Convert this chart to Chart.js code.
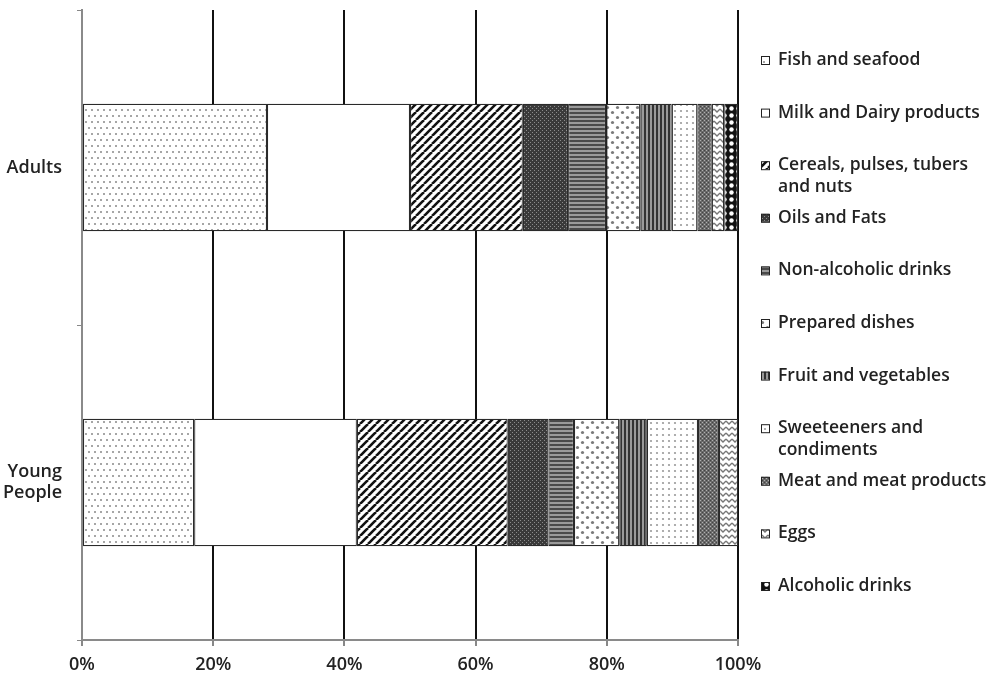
<!DOCTYPE html>
<html>
<head>
<meta charset="utf-8">
<script src="https://cdn.jsdelivr.net/npm/chart.js@4"></script>
<style>
  html, body { margin: 0; padding: 0; background: #fff; }
  #wrap { width: 993px; height: 686px; position: relative; }
</style>
</head>
<body>
<div id="wrap"><canvas id="chart"></canvas></div>
<script>
// data (percent of each group)
const categories = ['Adults', ['Young', 'People']];
const seriesNames = [
  'Fish and seafood',
  'Milk and Dairy products',
  ['Cereals, pulses, tubers', 'and nuts'],
  'Oils and Fats',
  'Non-alcoholic drinks',
  'Prepared dishes',
  'Fruit and vegetables',
  ['Sweeteeners and', 'condiments'],
  'Meat and meat products',
  'Eggs',
  'Alcoholic drinks'
];
const adults      = [28.2, 21.8, 17.2, 6.9, 5.8, 5.2, 4.8, 3.9, 2.2, 1.9, 2.1];
const youngPeople = [17.1, 24.8, 23.0, 6.2, 3.9, 6.9, 4.2, 7.8, 3.2, 2.9, 0];
const xTickLabels = ['0%', '20%', '40%', '60%', '80%', '100%'];

const FONT = '"Open Sans", "DejaVu Sans", sans-serif';
const TEXT = '#222';

// small tiles turned into canvas patterns (black & white hatch fills)
function tile(w, h, draw) {
  const c = document.createElement('canvas');
  c.width = w; c.height = h;
  const g = c.getContext('2d');
  draw(g, w, h);
  return document.getElementById('chart').getContext('2d').createPattern(c, 'repeat');
}
function dot(g, x, y, r, col) {
  g.fillStyle = col;
  g.beginPath(); g.arc(x, y, r, 0, Math.PI * 2); g.fill();
}

const patterns = [
  // fish: sparse grey dots
  tile(12, 12, (g, w, h) => {
    g.fillStyle = '#fff'; g.fillRect(0, 0, w, h);
    [[2, 2], [8, 2], [5, 8], [11, 8]].forEach(p => dot(g, p[0], p[1], 1, '#888'));
  }),
  // milk: plain white
  tile(4, 4, (g, w, h) => { g.fillStyle = '#fff'; g.fillRect(0, 0, w, h); }),
  // cereals: bold diagonal stripes
  tile(8, 8, (g, w, h) => {
    g.fillStyle = '#fff'; g.fillRect(0, 0, w, h);
    g.strokeStyle = '#111'; g.lineWidth = 2.6;
    for (let k = -1; k <= 1; k++) {
      g.beginPath(); g.moveTo(k * w, h); g.lineTo(k * w + w, 0); g.stroke();
    }
  }),
  // oils: dark fine dots
  tile(4, 4, (g, w, h) => {
    g.fillStyle = '#3a3a3a'; g.fillRect(0, 0, w, h);
    g.fillStyle = '#8c8c8c'; g.fillRect(0, 0, 1, 1); g.fillRect(2, 2, 1, 1);
  }),
  // non-alcoholic: horizontal stripes
  tile(4, 4, (g, w, h) => {
    g.fillStyle = '#9a9a9a'; g.fillRect(0, 0, w, h);
    g.fillStyle = '#4a4a4a'; g.fillRect(0, 0, w, 2);
  }),
  // prepared dishes: polka dots
  tile(10, 10, (g, w, h) => {
    g.fillStyle = '#fff'; g.fillRect(0, 0, w, h);
    dot(g, 2.5, 2.5, 1.6, '#7a7a7a'); dot(g, 7.5, 7.5, 1.6, '#7a7a7a');
  }),
  // fruit: vertical stripes
  tile(4, 4, (g, w, h) => {
    g.fillStyle = '#9a9a9a'; g.fillRect(0, 0, w, h);
    g.fillStyle = '#333'; g.fillRect(0, 0, 2, h);
  }),
  // sweeteners: small regular dots
  tile(6, 6, (g, w, h) => {
    g.fillStyle = '#fff'; g.fillRect(0, 0, w, h);
    dot(g, 3, 3, 1.1, '#9a9a9a');
  }),
  // meat: dark grey crosshatch texture
  tile(4, 4, (g, w, h) => {
    g.fillStyle = '#6a6a6a'; g.fillRect(0, 0, w, h);
    g.fillStyle = '#b0b0b0'; g.fillRect(0, 0, 1, 1); g.fillRect(2, 2, 1, 1);
    g.fillStyle = '#444'; g.fillRect(2, 0, 1, 1); g.fillRect(0, 2, 1, 1);
  }),
  // eggs: zigzag
  tile(6, 6, (g, w, h) => {
    g.fillStyle = '#fff'; g.fillRect(0, 0, w, h);
    g.strokeStyle = '#777'; g.lineWidth = 1.3;
    g.beginPath(); g.moveTo(0, 1); g.lineTo(3, 4); g.lineTo(6, 1); g.stroke();
  }),
  // alcoholic: black lattice with white holes
  tile(7, 7, (g, w, h) => {
    g.fillStyle = '#111'; g.fillRect(0, 0, w, h);
    dot(g, 3.5, 3.5, 2.2, '#fff');
  })
];

const datasets = seriesNames.map((name, i) => ({
  label: Array.isArray(name) ? name.join(' ') : name,
  data: [adults[i], youngPeople[i]],
  backgroundColor: patterns[i],
  borderColor: '#2a2a2a',
  borderWidth: 1.2,
  borderSkipped: false,
  barPercentage: 0.405,
  categoryPercentage: 1
}));

// legend on the right, evenly spaced like the original
const sideLegend = {
  id: 'sideLegend',
  afterDraw(chart) {
    const ctx = chart.ctx;
    const area = chart.chartArea;
    const boxX = area.right + 23;
    const textX = area.right + 40;
    const step = 52.6;
    ctx.save();
    ctx.font = '600 17.5px ' + FONT;
    ctx.textBaseline = 'middle';
    seriesNames.forEach((name, i) => {
      const y = area.top + 50 + i * step;
      ctx.fillStyle = patterns[i];
      ctx.fillRect(boxX, y - 4, 8, 8);
      ctx.strokeStyle = '#222';
      ctx.lineWidth = 1;
      ctx.strokeRect(boxX + 0.5, y - 3.5, 8, 8);
      ctx.fillStyle = TEXT;
      const lines = Array.isArray(name) ? name : [name];
      lines.forEach((ln, j) => ctx.fillText(ln, textX, y + j * 22));
    });
    ctx.restore();
  }
};

new Chart(document.getElementById('chart'), {
  type: 'bar',
  data: { labels: categories, datasets: datasets },
  options: {
    indexAxis: 'y',
    responsive: true,
    maintainAspectRatio: false,
    animation: false,
    layout: { padding: { left: 0, top: 10, right: 255, bottom: 0 } },
    plugins: { legend: { display: false }, tooltip: { enabled: false } },
    scales: {
      x: {
        stacked: true,
        min: 0,
        max: 100,
        ticks: {
          stepSize: 20,
          padding: 8,
          color: TEXT,
          font: { family: FONT, size: 18, weight: '600' },
          callback: (v, i) => xTickLabels[i]
        },
        grid: {
          color: ctx => (ctx.tick && ctx.tick.value === 0) ? 'rgba(0,0,0,0)' : '#111',
          lineWidth: 2,
          tickColor: '#888',
          tickLength: 6,
          drawTicks: true
        },
        border: { color: '#8a8a8a', width: 2 },
        afterFit: s => { s.height = 46; s.paddingLeft = 0; s.paddingRight = 0; }
      },
      y: {
        stacked: true,
        offset: true,
        ticks: {
          padding: 15,
          color: TEXT,
          font: { family: FONT, size: 18, weight: '600', lineHeight: 1.19 }
        },
        grid: {
          offset: true,
          drawOnChartArea: false,
          color: '#888',
          tickLength: 5
        },
        border: { color: '#8a8a8a', width: 2 },
        afterFit: s => { s.width = 82; s.paddingTop = 0; s.paddingBottom = 0; }
      }
    }
  },
  plugins: [sideLegend]
});
</script>
</body>
</html>
